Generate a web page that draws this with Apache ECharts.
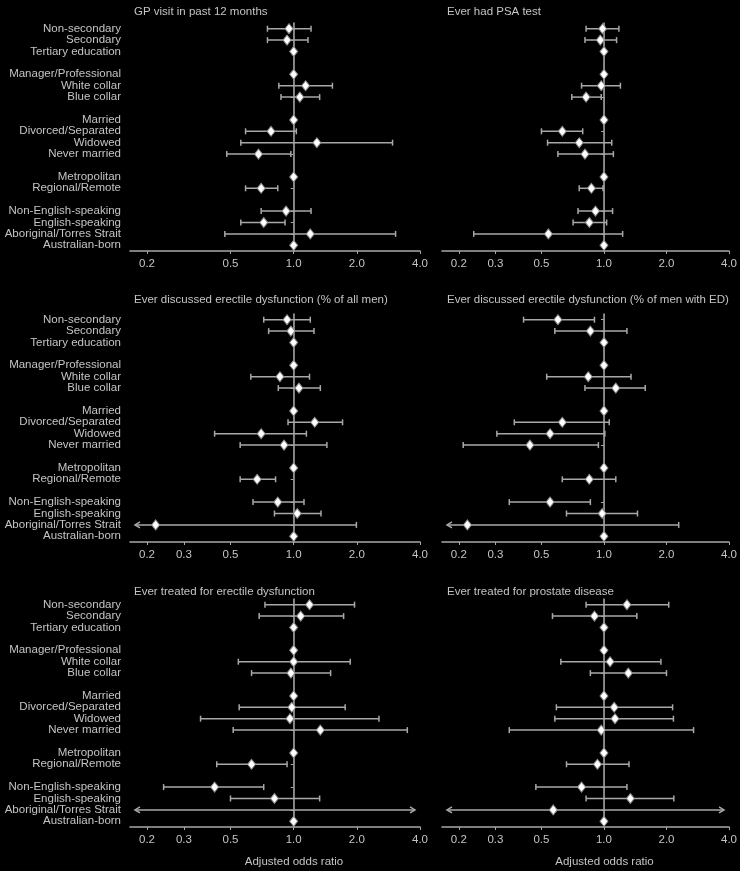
<!DOCTYPE html>
<html>
<head>
<meta charset="utf-8">
<style>
html, body { margin: 0; background: #000; }
#chart { width: 740px; height: 871px; }
</style>
<script src="https://cdn.jsdelivr.net/npm/echarts@6/dist/echarts.min.js"></script>
</head>
<body>
<div id="chart"></div>
<script>
// row labels, the blank ones are the gaps between groups
var rows = ['Non-secondary', 'Secondary', 'Tertiary education', '',
    'Manager/Professional', 'White collar', 'Blue collar', ' ',
    'Married', 'Divorced/Separated', 'Widowed', 'Never married', '  ',
    'Metropolitan', 'Regional/Remote', '   ',
    'Non-English-speaking', 'English-speaking', 'Aboriginal/Torres Strait', 'Australian-born'];

var titles = ['GP visit in past 12 months', 'Ever had PSA test',
    'Ever discussed erectile dysfunction (% of all men)',
    'Ever discussed erectile dysfunction (% of men with ED)',
    'Ever treated for erectile dysfunction', 'Ever treated for prostate disease'];

var ticksShort = [0.2, 0.5, 1, 2, 4];
var ticksLong = [0.2, 0.3, 0.5, 1, 2, 4];
var axisMin = 0.166, axisMax = 4;

// odds ratio and 95% CI; null = nothing drawn, LOW / HIGH = CI runs off the scale
var LOW = 0, HIGH = Infinity;

var gpOr = [0.95, 0.93, 1, null, 1, 1.14, 1.07, null, 1, 0.78, 1.29, 0.68, null, 1, 0.70, null, 0.92, 0.72, 1.20, 1];
var gpLo = [0.75, 0.75, null, null, null, 0.85, 0.87, null, null, 0.59, 0.56, 0.48, null, null, 0.59, null, 0.70, 0.56, 0.47, null];
var gpHi = [1.21, 1.17, null, null, null, 1.53, 1.33, null, null, 1.03, 2.96, 0.97, null, null, 0.84, null, 1.21, 0.91, 3.06, null];

var psaOr = [0.985, 0.96, 1, null, 1, 0.97, 0.82, null, 1, 0.63, 0.76, 0.81, null, 1, 0.87, null, 0.91, 0.85, 0.54, 1];
var psaLo = [0.82, 0.81, null, null, null, 0.78, 0.70, null, null, 0.50, 0.535, 0.60, null, null, 0.76, null, 0.75, 0.71, 0.236, null];
var psaHi = [1.18, 1.15, null, null, null, 1.20, 0.97, null, null, 0.79, 1.09, 1.11, null, null, 0.99, null, 1.10, 1.03, 1.23, null];

var edAllOr = [0.93, 0.97, 1, null, 1, 0.86, 1.06, null, 1, 1.26, 0.70, 0.90, null, 1, 0.67, null, 0.84, 1.04, 0.22, 1];
var edAllLo = [0.72, 0.76, null, null, null, 0.625, 0.845, null, null, 0.94, 0.42, 0.556, null, null, 0.556, null, 0.64, 0.81, LOW, null];
var edAllHi = [1.20, 1.25, null, null, null, 1.19, 1.34, null, null, 1.71, 1.15, 1.44, null, null, 0.82, null, 1.12, 1.35, 1.99, null];

var edMenOr = [0.60, 0.86, 1, null, 1, 0.84, 1.14, null, 1, 0.63, 0.55, 0.44, null, 1, 0.85, null, 0.55, 0.98, 0.22, 1];
var edMenLo = [0.41, 0.58, null, null, null, 0.53, 0.81, null, null, 0.37, 0.305, 0.21, null, null, 0.63, null, 0.35, 0.66, LOW, null];
var edMenHi = [0.90, 1.29, null, null, null, 1.35, 1.58, null, null, 1.06, 1.01, 0.94, null, null, 1.14, null, 0.86, 1.45, 2.29, null];

var edTrOr = [1.19, 1.08, 1, null, 1, 1.0, 0.97, null, 1, 0.98, 0.96, 1.34, null, 1, 0.63, null, 0.42, 0.81, null, 1];
var edTrLo = [0.73, 0.685, null, null, null, 0.545, 0.63, null, null, 0.55, 0.36, 0.515, null, null, 0.43, null, 0.24, 0.50, LOW, null];
var edTrHi = [1.95, 1.73, null, null, null, 1.86, 1.50, null, null, 1.76, 2.55, 3.48, null, null, 0.93, null, 0.72, 1.33, HIGH, null];

var prOr = [1.29, 0.90, 1, null, 1, 1.07, 1.31, null, 1, 1.12, 1.13, 0.97, null, 1, 0.93, null, 0.78, 1.34, 0.57, 1];
var prLo = [0.82, 0.565, null, null, null, 0.62, 0.86, null, null, 0.59, 0.58, 0.35, null, null, 0.66, null, 0.47, 0.82, LOW, null];
var prHi = [2.05, 1.44, null, null, null, 1.88, 2.0, null, null, 2.14, 2.16, 2.70, null, null, 1.32, null, 1.29, 2.17, HIGH, null];

var panels = [
    [gpOr, gpLo, gpHi, ticksShort],
    [psaOr, psaLo, psaHi, ticksLong],
    [edAllOr, edAllLo, edAllHi, ticksLong],
    [edMenOr, edMenLo, edMenHi, ticksLong],
    [edTrOr, edTrLo, edTrHi, ticksLong],
    [prOr, prLo, prHi, ticksLong]
];

var textColor = '#c4c4c4';
var lineColor = '#a8a8a8';
var font = '"Liberation Sans", Arial, sans-serif';
var xMin = Math.log10(axisMin), xMax = Math.log10(axisMax);

var myChart = echarts.init(document.getElementById('chart'), null, { renderer: 'canvas' });

function isBlank(v) { return String(v).trim() === ''; }

function renderBar(params, api) {
    var i = api.value(2);
    var clipL = api.value(3), clipR = api.value(4);
    var a = api.coord([api.value(0), i]);
    var b = api.coord([api.value(1), i]);
    var y = a[1];
    var x1 = clipL ? a[0] + 5 : a[0];
    var x2 = clipR ? b[0] - 5 : b[0];
    var st = { stroke: lineColor, lineWidth: 1.5, fill: null };
    var kids = [{ type: 'line', shape: { x1: x1, y1: y, x2: x2, y2: y }, style: st }];
    if (clipL) {
        kids.push({ type: 'polyline', shape: { points: [[x1 + 5, y - 3], [x1, y], [x1 + 5, y + 3]] }, style: st });
    } else {
        kids.push({ type: 'line', shape: { x1: x1, y1: y - 3, x2: x1, y2: y + 3 }, style: st });
    }
    if (clipR) {
        kids.push({ type: 'polyline', shape: { points: [[x2 - 5, y - 3], [x2, y], [x2 - 5, y + 3]] }, style: st });
    } else {
        kids.push({ type: 'line', shape: { x1: x2, y1: y - 3, x2: x2, y2: y + 3 }, style: st });
    }
    return { type: 'group', children: kids };
}

var lefts = [130, 442], widths = [290, 288], tops = [23, 314, 599];
var titleTops = [1, 289, 581];

var option = {
    backgroundColor: '#000',
    animation: false,
    title: [],
    grid: [],
    xAxis: [],
    yAxis: [],
    series: []
};

panels.forEach(function (p, k) {
    var col = k % 2, row = Math.floor(k / 2);
    var ors = p[0], los = p[1], his = p[2], ticks = p[3];
    var logTicks = ticks.map(function (t) { return Math.log10(t); });

    option.title.push({
        text: titles[k],
        left: col ? 442 : 129,
        top: titleTops[row],
        textStyle: { color: textColor, fontSize: 11.5, fontWeight: 'normal', fontFamily: font }
    });
    option.grid.push({ left: lefts[col], width: widths[col], top: tops[row], height: 228 });
    option.xAxis.push({
        type: 'value', gridIndex: k, min: xMin, max: xMax,
        name: row === 2 ? 'Adjusted odds ratio' : '',
        nameLocation: 'middle', nameGap: 29,
        nameTextStyle: { color: textColor, fontSize: 11.5, fontFamily: font, padding: [0, 0, 0, 38] },
        axisLine: { show: true, lineStyle: { color: lineColor, width: 1.5 } },
        axisTick: { show: true, length: 3, customValues: logTicks, lineStyle: { color: lineColor } },
        axisLabel: {
            color: textColor, fontSize: 11.5, fontFamily: font, margin: 7,
            customValues: logTicks,
            formatter: function (v) { return Math.pow(10, v).toFixed(1); }
        },
        splitLine: { show: false }
    });
    option.yAxis.push({
        type: 'category', gridIndex: k, data: rows, inverse: true,
        axisLine: { show: true, lineStyle: { color: lineColor, width: 1.5 } },
        axisTick: {
            show: true, length: 3, alignWithLabel: true,
            interval: function (idx, v) { return !isBlank(v); },
            lineStyle: { color: lineColor }
        },
        axisLabel: {
            show: col === 0, color: textColor, fontSize: 11.5, fontFamily: font, margin: 9,
            interval: 0
        },
        splitLine: { show: false }
    });

    var bars = [], points = [];
    rows.forEach(function (r, i) {
        if (los[i] !== null && his[i] !== null) {
            var cl = los[i] <= axisMin ? 1 : 0;
            var cr = his[i] >= axisMax ? 1 : 0;
            bars.push([cl ? xMin : Math.log10(los[i]), cr ? xMax : Math.log10(his[i]), i, cl, cr]);
        }
        if (ors[i] !== null) points.push([Math.log10(ors[i]), i]);
    });

    option.series.push({
        type: 'custom', xAxisIndex: k, yAxisIndex: k,
        renderItem: renderBar, data: bars, silent: true, z: 2,
        encode: { x: [0, 1], y: 2 }
    });
    option.series.push({
        type: 'scatter', xAxisIndex: k, yAxisIndex: k, data: points, z: 4,
        symbol: 'diamond', symbolSize: [8, 10],
        itemStyle: { color: '#fff', borderColor: '#8a8a8a', borderWidth: 1, opacity: 1 },
        markLine: {
            silent: true, symbol: 'none', label: { show: false }, z: 1,
            lineStyle: { color: '#8a8a8a', type: 'solid', width: 1 },
            data: [{ xAxis: 0 }]
        }
    });
});

myChart.setOption(option);
</script>
</body>
</html>
